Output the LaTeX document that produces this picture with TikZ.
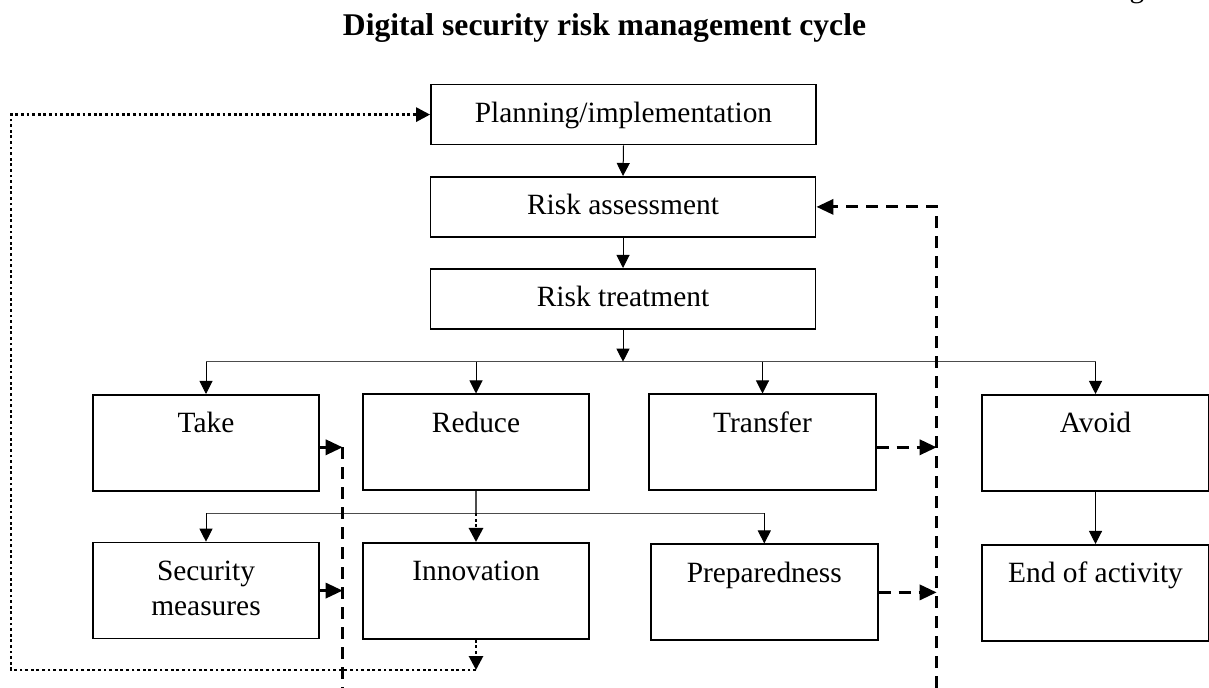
\documentclass[tikz,border=0pt]{standalone}
\usepackage{fontspec}
\setmainfont{Liberation Serif}
\usetikzlibrary{arrows.meta}

\begin{document}
\begin{tikzpicture}[x=0.5pt, y=-0.5pt,
  >={Triangle[length=6.5pt,width=6.5pt]},
  box/.style={draw, line width=0.9pt, inner sep=0pt, anchor=north,
    font=\fontsize{14.7}{17.5}\selectfont},
  topbox/.style={box, minimum width=192.5pt, text height=19pt, text depth=11pt},
  lowbox/.style={box, minimum width=113.3pt, text height=19pt, text depth=29pt},
  arrowline/.style={->, line width=0.5pt},
  busline/.style={line width=0.6pt, black!70},
  dashline/.style={line width=1.6pt, dash pattern=on 6pt off 4pt,
    >={Triangle[length=8.5pt,width=7.5pt]}},
  dotline/.style={line width=1.4pt, dash pattern=on 1.4pt off 1.4pt,
    >={Triangle[length=7pt,width=7pt]}}]
  \useasboundingbox (0,0) rectangle (1209,688);

  % heading
  \node (title) at (604.5,36) [anchor=base, font=\fontsize{15.8}{19}\selectfont\bfseries]
    {Digital security risk management cycle};
  \node (fig) at (1098,-2.5) [anchor=base west, font=\fontsize{14.7}{17.5}\selectfont] {Figure};

  % main chain
  \node (plan) at (623.5,83.7) [topbox] {Planning/implementation};
  \node (assess) at (623,176) [topbox] {Risk assessment};
  \node (treat) at (623,268) [topbox] {Risk treatment};

  % treatment options
  \node (take) at (206,394) [lowbox] {Take};
  \node (reduce) at (476,393.5) [lowbox] {Reduce};
  \node (transfer) at (762.5,393.5) [lowbox] {Transfer};
  \node (avoid) at (1095.5,394) [lowbox] {Avoid};

  % second row
  \node (secure) at (206,541.7) [lowbox] {\parbox[t]{100pt}{\centering Security\\measures}};
  \node (innov) at (476,542) [lowbox] {Innovation};
  \node (prep) at (764.3,543.5) [lowbox] {Preparedness};
  \node (stop) at (1095.5,544) [lowbox] {End of activity};

  \draw [arrowline] (plan.south) -- (assess.north);
  \draw [arrowline] (assess.south) -- (treat.north);

  % first fork
  \coordinate (fork) at (treat.south |- 0,361.7);
  \draw [busline] (fork -| take.north) -- (fork -| avoid.north);
  \draw [arrowline] (treat.south) -- (fork);
  \foreach \n in {take, reduce, transfer, avoid}
    \draw [arrowline] (fork -| \n.north) -- (\n.north);

  % second fork
  \coordinate (fork2) at (reduce.south |- 0,513.3);
  \draw [busline] (reduce.south) -- (fork2);
  \draw [busline] (fork2 -| secure.north) -- (fork2 -| prep.north);
  \draw [arrowline] (fork2 -| secure.north) -- (secure.north);
  \draw [arrowline] (fork2 -| prep.north) -- (prep.north);
  \draw [dotline, ->] (fork2) -- (innov.north);
  \draw [arrowline] (avoid.south) -- (stop.north);

  % dotted loop back to planning
  \coordinate (loopend) at (innov.south |- 0,670);
  \coordinate (loopleft) at (11,670);
  \draw [dotline, ->] (innov.south) -- (loopend);
  \draw [dotline, ->] (loopend) -- (loopleft) |- (plan.west);

  % dashed feedback lines
  \coordinate (leftjoin) at (342.7,447.3);
  \coordinate (leftbot) at (342.7,688);
  \coordinate (rightbot) at (936.7,688);
  \draw [dashline, ->] (take.east |- leftjoin) -- (leftjoin);
  \draw [dashline, ->] (secure.east) -- (secure.east -| leftjoin);
  \draw [dashline] (leftjoin) -- (leftbot);
  \draw [dashline, ->] (transfer.east |- leftjoin) -- (rightbot |- leftjoin);
  \draw [dashline, ->] (prep.east) -- (prep.east -| rightbot);
  \draw [dashline, ->] (rightbot) |- (assess.east);
\end{tikzpicture}
\end{document}
